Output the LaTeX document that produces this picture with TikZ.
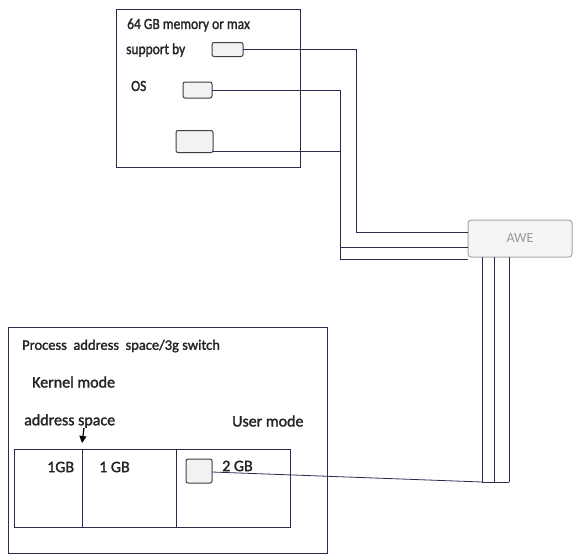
\documentclass[tikz,border=0pt]{standalone}
\usepackage{fontspec}
\usepackage{graphicx}
\setmainfont{Carlito}
\newfontfamily\scanfont{Carlito}[FakeBold=1.6]
\newcommand{\narrowtxt}[1]{\scalebox{0.87}[1]{#1}}
\usetikzlibrary{arrows.meta}
\definecolor{ink}{RGB}{40,44,80}
\definecolor{txt}{RGB}{35,35,40}
\begin{document}
\begin{tikzpicture}[x=1pt,y=-1pt,
  box/.style={draw=ink, line width=0.9pt, inner sep=0, outer sep=0},
  lbl/.style={anchor=west, inner sep=0, font=\scanfont\fontsize{16}{18}\selectfont, text=txt},
  lbltop/.style={lbl, font=\scanfont\fontsize{15.5}{18}\selectfont},
  mini/.style={draw=black!75, fill=black!5, rounded corners=2pt, line width=1pt, inner sep=0, outer sep=0},
  wire/.style={draw=ink, line width=0.8pt}]
\useasboundingbox (0,0) rectangle (574,555);
\fill[white] (0,0) rectangle (574,555);
% top box
\node[box, minimum width=184, minimum height=158, anchor=north west] (top) at (116,9) {};
\node[lbltop] (t1) at (127,25) {\narrowtxt{64 GB memory or max}};
\node[lbltop] (t2) at (126,50) {\narrowtxt{support by}};
\node[lbltop] (t3) at (131,86) {\narrowtxt{OS}};
\node[mini, minimum width=31, minimum height=14] (m1) at (227.5,49.5) {};
\node[mini, minimum width=29, minimum height=16] (m2) at (197.5,90) {};
\node[mini, minimum width=37, minimum height=22] (m3) at (194.5,141.5) {};
% AWE
\node[draw=black!35, fill=black!4, rounded corners=3pt, line width=1pt, minimum width=104, minimum height=37,
  inner sep=0, outer sep=0, text=black!40, font=\fontsize{14}{16}\selectfont] (awe) at (520,238.5) {AWE};
% bottom box
\node[box, minimum width=319, minimum height=226, anchor=north west] (outer) at (8,327) {};
\node[lbl, font=\scanfont\fontsize{14.5}{17}\selectfont] (t4) at (22,346) {Process\ \ address\ \ space/3g switch};
\node[lbl] (t5) at (32,382) {Kernel mode};
\node[lbl] (t6) at (24,421) {address space};
\node[lbl] (t7) at (232,421) {User mode};
\node[box, minimum width=68, minimum height=78, anchor=north west] (c1) at (14,449) {};
\node[box, minimum width=94, minimum height=78, anchor=north west] (c2) at (82,449) {};
\node[box, minimum width=114, minimum height=78, anchor=north west] (c3) at (176,449) {};
\node[lbl] (t8) at (47,467) {1GB};
\node[lbl] (t9) at (99,467) {1 GB};
\node[lbl] (t10) at (222,466) {2 GB};
\node[mini, minimum width=26, minimum height=24] (m4) at (199,471) {};
\draw[-{Triangle[length=7pt,width=7pt]}, line width=1.2pt, black] (t6.south -| 84,0) -- (c1.north east |- 0,443);
% wires
\draw[wire] (m1.east) -- (356,49.5) -- (356,232) -- (awe.west |- 0,232);
\draw[wire] (m2.east) -- (340,90) -- (340,259) -- (awe.west |- 0,259);
\draw[wire] (m3.east |- 0,151) -- (340,151) -- (340,247) -- (awe.west |- 0,247);
\coordinate (j1) at (482,482);
\coordinate (j2) at (494,482);
\coordinate (j3) at (509,482);
\draw[wire] (awe.south -| j1) -- (j1);
\draw[wire] (awe.south -| j2) -- (j2);
\draw[wire] (awe.south -| j3) -- (j3);
\draw[wire] (j1) -- (j3);
\draw[wire] (m4.east |- 0,472) -- (j1);
\end{tikzpicture}
\end{document}
